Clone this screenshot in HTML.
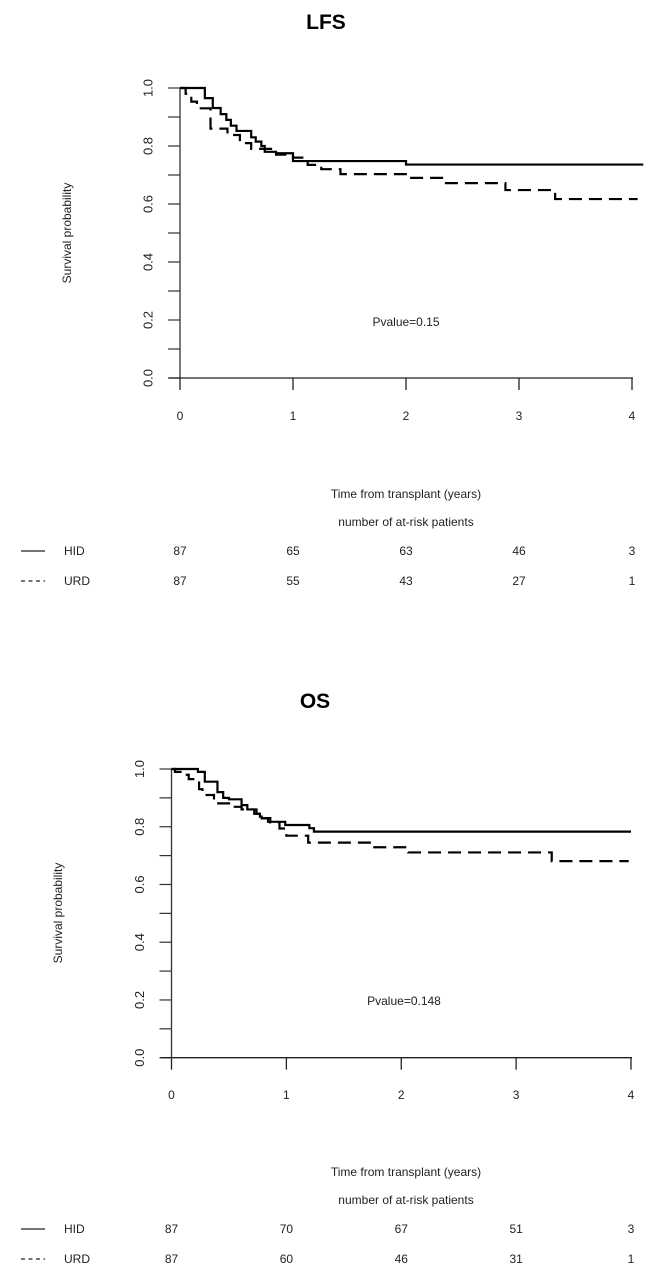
<!DOCTYPE html>
<html><head><meta charset="utf-8"><style>
html,body{margin:0;padding:0;background:#fff;}
svg{display:block;font-family:"Liberation Sans",Arial,sans-serif;}
</style></head><body>
<svg id="c" width="651" height="1280" viewBox="0 0 651 1280" xmlns="http://www.w3.org/2000/svg"></svg>
<script>
const lfsHidT=[0,0.22,0.29,0.36,0.41,0.45,0.50,0.63,0.67,0.72,0.75,0.85,1.0,2.0];
const lfsHidS=[1.0,0.965,0.931,0.91,0.89,0.87,0.852,0.83,0.815,0.80,0.78,0.775,0.748,0.736];
const lfsUrdT=[0,0.05,0.1,0.15,0.27,0.42,0.53,0.63,0.85,1.0,1.13,1.25,1.42,2.02,2.33,2.88,3.32];
const lfsUrdS=[1.0,0.98,0.953,0.93,0.86,0.838,0.81,0.79,0.77,0.76,0.735,0.72,0.703,0.69,0.672,0.648,0.617];
const osHidT=[0,0.23,0.29,0.40,0.45,0.50,0.61,0.66,0.72,0.77,0.785,0.84,0.99,1.2,1.24];
const osHidS=[1.0,0.99,0.956,0.92,0.90,0.895,0.875,0.86,0.845,0.835,0.829,0.817,0.806,0.795,0.783];
const osUrdT=[0,0.03,0.1,0.15,0.24,0.27,0.37,0.52,0.61,0.74,0.8,0.86,0.94,1.0,1.19,1.74,2.06,3.31];
const osUrdS=[1.0,0.99,0.98,0.965,0.93,0.91,0.881,0.869,0.86,0.845,0.83,0.815,0.794,0.769,0.745,0.729,0.711,0.681];
const xTicks=[0,1,2,3,4];
const yTicks=[0,0.1,0.2,0.3,0.4,0.5,0.6,0.7,0.8,0.9,1.0];
const yLabels=["0.0","0.2","0.4","0.6","0.8","1.0"];
const lfsRiskHid=[87,65,63,46,3];
const lfsRiskUrd=[87,55,43,27,1];
const osRiskHid=[87,70,67,51,3];
const osRiskUrd=[87,60,46,31,1];

const NS="http://www.w3.org/2000/svg";
const svg=document.getElementById('c');
function mk(tag,attrs,parent,text){const e=document.createElementNS(NS,tag);for(const k in attrs)e.setAttribute(k,attrs[k]);if(text!==undefined)e.textContent=text;(parent||svg).appendChild(e);return e;}

function panel(p){
  const g=mk('g',{});
  
  
  const X=t=>p.x0+(p.x4-p.x0)*t/4;
  const Y=s=>p.y0-(p.y0-p.y1)*s;
  const title=mk('text',{x:p.tx,y:p.ty,'text-anchor':'middle','font-size':21,'font-weight':'bold'},g,p.title);
  
  
  const ya=mk('g',{},g);
  
  
  mk('line',{x1:p.x0,y1:Y(0),x2:p.x0,y2:Y(1),stroke:'#333','stroke-width':1.3},ya);
  yTicks.forEach(v=>{mk('line',{x1:p.x0-12,y1:Y(v),x2:p.x0,y2:Y(v),stroke:'#333','stroke-width':1.2},ya);});
  yLabels.forEach(l=>{const v=parseFloat(l);const tx=p.x0-32;
    const t=mk('text',{x:tx,y:Y(v),'text-anchor':'middle','font-size':13,fill:'#222',transform:`rotate(-90 ${tx} ${Y(v)})`,dy:4.5},ya,l);
    
    });
  const yt=mk('text',{x:p.ytx,y:p.yty,'text-anchor':'middle','font-size':12,fill:'#222',transform:`rotate(-90 ${p.ytx} ${p.yty})`},g,'Survival probability');
  
  
  const xa=mk('g',{},g);
  
  
  mk('line',{x1:p.x0-11,y1:Y(0),x2:p.x4+1,y2:Y(0),stroke:'#222','stroke-width':1.3},xa);
  xTicks.forEach(v=>{mk('line',{x1:X(v),y1:Y(0),x2:X(v),y2:Y(0)+12,stroke:'#222','stroke-width':1.3},xa);
    const t=mk('text',{x:X(v),y:p.xly,'text-anchor':'middle','font-size':12,fill:'#222'},xa,String(v));
    
    });
  function curve(T,S,end,dash,name){
    let d=`M${X(T[0])},${Y(S[0])}`;
    for(let i=1;i<T.length;i++){d+=` H${X(T[i])} V${Y(S[i])}`;}
    d+=` H${X(end)}`;
    const c=mk('path',{d:d,fill:'none',stroke:'#000','stroke-width':2.2,'stroke-dasharray':dash?'13,7':'none'},g);
    
    
  }
  curve(p.hT,p.hS,p.hEnd,false,p.id+'-hid-curve');
  curve(p.uT,p.uS,p.uEnd,true,p.id+'-urd-curve');
  const pv=mk('text',{x:p.pvx,y:p.pvy,'text-anchor':'middle','font-size':12,fill:'#222'},g,p.pv);
  
  
  const tb=mk('g',{},g);
  
  
  mk('text',{x:406,y:p.r0,'text-anchor':'middle','font-size':12,fill:'#222'},tb,'Time from transplant (years)');
  mk('text',{x:406,y:p.r0+28,'text-anchor':'middle','font-size':12,fill:'#222'},tb,'number of at-risk patients');
  const rows=[['HID',p.rh,false],['URD',p.ru,true]];
  rows.forEach((r,i)=>{const yy=p.r0+57+i*30;
    mk('line',{x1:21,y1:yy-4,x2:45,y2:yy-4,stroke:'#222','stroke-width':1.2,'stroke-dasharray':r[2]?'4,3.5':'none'},tb);
    const lb=mk('text',{x:64,y:yy,'font-size':12,fill:'#222'},tb,r[0]);
    
    
    r[1].forEach((v,j)=>{mk('text',{x:X(xTicks[j]),y:yy,'text-anchor':'middle','font-size':12,fill:'#222'},tb,String(v));});
  });
}
panel({id:'lfs',title:'LFS',tx:326,ty:29,x0:180,x4:632,y0:378,y1:88,ytx:71,yty:233,xly:420,
  hT:lfsHidT,hS:lfsHidS,hEnd:4.1,uT:lfsUrdT,uS:lfsUrdS,uEnd:4.05,pv:'Pvalue=0.15',pvx:406,pvy:326,
  r0:498,rh:lfsRiskHid,ru:lfsRiskUrd});
panel({id:'os',title:'OS',tx:315,ty:708,x0:171.5,x4:631,y0:1057.7,y1:769,ytx:62,yty:913,xly:1099,
  hT:osHidT,hS:osHidS,hEnd:4.0,uT:osUrdT,uS:osUrdS,uEnd:3.98,pv:'Pvalue=0.148',pvx:404,pvy:1005,
  r0:1176,rh:osRiskHid,ru:osRiskUrd});
</script>
</body></html>
